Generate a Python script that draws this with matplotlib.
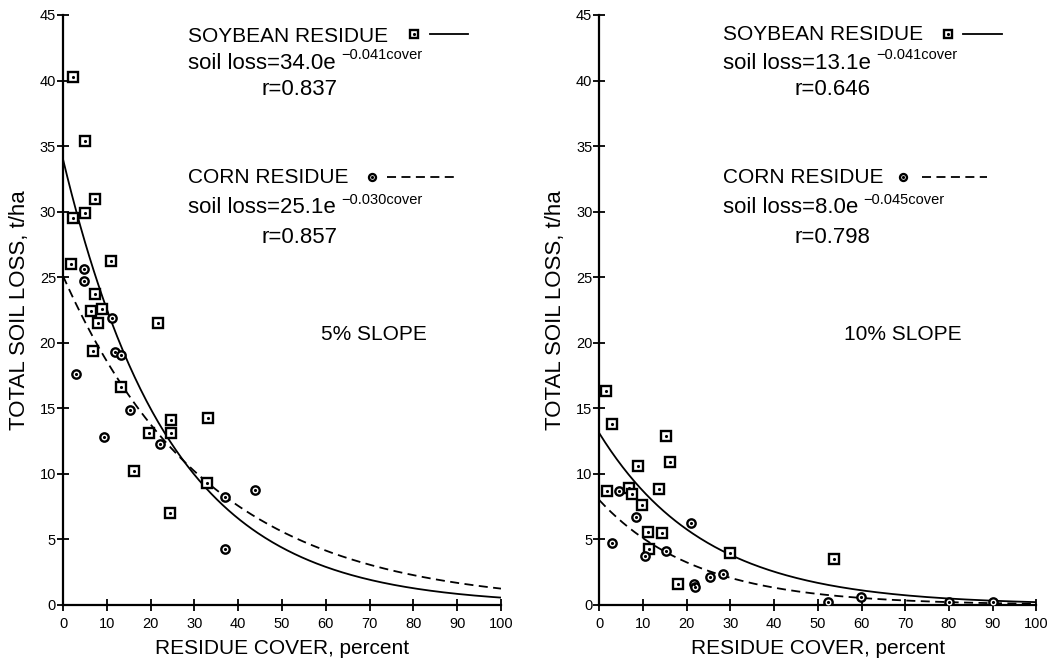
import matplotlib.pyplot as plt
import numpy as np

plt.rcParams['font.family'] = ['Liberation Sans', 'DejaVu Sans']

cover_ticks = list(range(0, 101, 10))
loss_ticks = list(range(0, 46, 5))

# 5% slope
soy5_cover = [2.2, 5.0, 7.3, 2.2, 5.0, 1.8, 11.0, 7.3, 6.3, 8.9, 8.1, 21.8, 6.8,
              13.2, 24.7, 33.0, 19.6, 24.7, 16.1, 32.8, 24.5]
soy5_loss = [40.3, 35.4, 31.0, 29.5, 29.9, 26.0, 26.2, 23.7, 22.4, 22.6, 21.5, 21.5,
             19.4, 16.6, 14.1, 14.3, 13.1, 13.1, 10.2, 9.3, 7.0]
corn5_cover = [4.8, 4.8, 11.3, 11.9, 13.2, 3.0, 15.3, 9.4, 22.1, 37.0, 43.8, 37.1]
corn5_loss = [25.6, 24.7, 21.9, 19.3, 19.1, 17.6, 14.9, 12.8, 12.3, 8.2, 8.8, 4.3]

# 10% slope
soy10_cover = [1.5, 3.0, 15.3, 16.2, 8.8, 1.7, 6.8, 7.4, 13.6, 9.8, 11.2, 14.4, 11.4,
               29.8, 17.9, 53.7]
soy10_loss = [16.3, 13.8, 12.9, 10.9, 10.6, 8.7, 8.9, 8.5, 8.85, 7.65, 5.6, 5.5, 4.25,
              3.95, 1.6, 3.5]
corn10_cover = [4.5, 8.5, 20.9, 2.9, 10.5, 15.2, 28.2, 25.3, 21.6, 22.0, 59.8, 52.3, 80, 90]
corn10_loss = [8.7, 6.7, 6.25, 4.7, 3.75, 4.1, 2.4, 2.1, 1.6, 1.35, 0.63, 0.2, 0.2, 0.2]

# fitted equations: soil loss = a * exp(b * cover), with r
soy5_fit = (34.0, -0.041, 0.837)
corn5_fit = (25.1, -0.030, 0.857)
soy10_fit = (13.1, -0.041, 0.646)
corn10_fit = (8.0, -0.045, 0.798)


def dotted_marker(ax, x, y, shape, size, **kw):
    ax.plot(x, y, ls='none', marker=shape, ms=size, mfc='white', mec='black',
            mew=1.7, **kw)
    ax.plot(x, y, ls='none', marker='.', ms=2.5, color='black', **kw)


def fit_text(ax, x, y, fit):
    a, b, r = fit
    base = ax.text(x, y, f"soil loss={a:.1f}e", transform=ax.transAxes,
                   fontsize=16, va='baseline')
    ax.annotate(f"\u2212{-b:.3f}cover", xy=(1, 1), xycoords=base,
                xytext=(4, -7), textcoords='offset points',
                va='bottom', ha='left', fontsize=10.5)


def panel(ax, soy_x, soy_y, corn_x, corn_y, soy_fit, corn_fit, slope, lay):
    grid = np.linspace(0, 100, 300)
    ax.plot(grid, soy_fit[0] * np.exp(soy_fit[1] * grid), color='black', lw=1.3)
    ax.plot(grid, corn_fit[0] * np.exp(corn_fit[1] * grid), color='black', lw=1.3,
            ls=(0, (5, 3)))
    dotted_marker(ax, soy_x, soy_y, 's', 6.5, zorder=3)
    dotted_marker(ax, corn_x, corn_y, 'o', 6, zorder=3)

    ax.set_xlim(0, 100)
    ax.set_ylim(0, 45)
    ax.set_xticks(cover_ticks)
    ax.set_yticks(loss_ticks)
    for s in ['top', 'right']:
        ax.spines[s].set_visible(False)
    for s in ['left', 'bottom']:
        ax.spines[s].set_linewidth(1.6)
    ax.tick_params(direction='inout', length=8, width=1.3, labelsize=10.5)
    ax.tick_params(axis='y', pad=1)
    ax.tick_params(axis='x', pad=5)

    ax.set_ylabel('TOTAL SOIL LOSS, t/ha', fontsize=16, va='center')
    ax.yaxis.set_label_coords(lay['ylab'], 0.5)
    ax.set_xlabel('RESIDUE COVER, percent', fontsize=15, va='center')
    ax.xaxis.set_label_coords(0.5, -0.073)

    tx, rx = lay['tx'], lay['rx']
    ax.text(tx, lay['top'], 'SOYBEAN RESIDUE', transform=ax.transAxes, fontsize=15,
            va='baseline')
    dotted_marker(ax, [lay['mk1']], [0.968], 's', 5.5, transform=ax.transAxes)
    ax.plot(lay['ln1'], [0.968, 0.968], color='black', lw=1.3, transform=ax.transAxes)
    fit_text(ax, tx, 0.909, soy_fit)
    ax.text(rx, 0.864, f"r={soy_fit[2]:.3f}", transform=ax.transAxes, fontsize=16,
            va='baseline')

    ax.text(tx, 0.715, 'CORN RESIDUE', transform=ax.transAxes, fontsize=15,
            va='baseline')
    dotted_marker(ax, [lay['mk2']], [0.725], 'o', 5, transform=ax.transAxes)
    ax.plot(lay['ln2'], [0.725, 0.725], color='black', lw=1.3, ls=(0, (5, 3)),
            transform=ax.transAxes)
    fit_text(ax, tx, 0.664, corn_fit)
    ax.text(rx, 0.614, f"r={corn_fit[2]:.3f}", transform=ax.transAxes, fontsize=16,
            va='baseline')

    ax.text(lay['sx'], 0.449, slope, transform=ax.transAxes, fontsize=15,
            va='baseline')


fig = plt.figure(figsize=(10.52, 6.58), dpi=100)
ax1 = fig.add_axes([63 / 1052, 53 / 658, 438 / 1052, 590 / 658])
ax2 = fig.add_axes([599.3 / 1052, 53 / 658, 437 / 1052, 590 / 658])

panel(ax1, soy5_cover, soy5_loss, corn5_cover, corn5_loss, soy5_fit, corn5_fit,
      '5% SLOPE',
      dict(tx=0.285, rx=0.454, top=0.955, mk1=0.801, ln1=[0.838, 0.925], mk2=0.705,
           ln2=[0.740, 0.900], sx=0.589, ylab=-0.10))
panel(ax2, soy10_cover, soy10_loss, corn10_cover, corn10_loss, soy10_fit, corn10_fit,
      '10% SLOPE',
      dict(tx=0.282, rx=0.446, top=0.957, mk1=0.798, ln1=[0.832, 0.921], mk2=0.695,
           ln2=[0.738, 0.887], sx=0.560, ylab=-0.10))

fig.savefig('out.png', dpi=100)
